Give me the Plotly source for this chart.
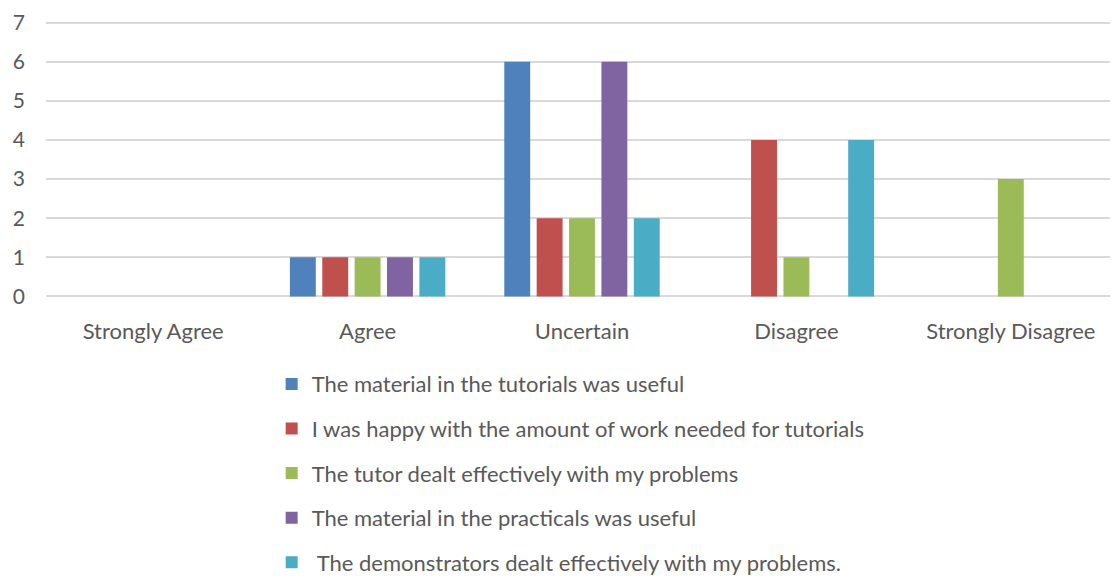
import plotly.graph_objects as go

categories = ["Strongly Agree", "Agree", "Uncertain", "Disagree", "Strongly Disagree"]

series_names = [
    "The material in the tutorials was useful",
    "I was happy with the amount of work needed for tutorials",
    "The tutor dealt effectively with my problems",
    "The material in the practicals was useful",
    " The demonstrators dealt effectively with my problems.",
]

tutorials_useful = [0, 1, 6, 0, 0]
work_amount = [0, 1, 2, 4, 0]
tutor_effective = [0, 1, 2, 1, 3]
practicals_useful = [0, 1, 6, 0, 0]
demonstrators_effective = [0, 1, 2, 4, 0]

series_values = [tutorials_useful, work_amount, tutor_effective,
                 practicals_useful, demonstrators_effective]

colors = ["#4F81BD", "#C0504D", "#9BBB59", "#8064A2", "#4BACC6"]

y_ticks = [0, 1, 2, 3, 4, 5, 6, 7]

fig = go.Figure()
for i, (name, vals) in enumerate(zip(series_names, series_values)):
    fig.add_trace(go.Bar(
        x=categories, y=vals, name=name,
        marker=dict(color=colors[i], line=dict(width=0)),
        legendgroup=str(i),
    ))

# the page body has an 8px margin, so the figure is sized/offset to fit the window
font_family = "Lato, Liberation Sans, Arial, sans-serif"
fig.update_layout(
    width=1110, height=569,
    margin=dict(l=38, r=0, t=13, b=279, autoexpand=False),
    plot_bgcolor="white", paper_bgcolor="white",
    barmode="group", bargap=0.245, bargroupgap=0.2,
    font=dict(family=font_family, size=22, color="#595959"),
    showlegend=True,
    legend=dict(
        orientation="v", x=0.2105, xanchor="left", y=-0.235, yanchor="top",
        font=dict(size=22, color="#595959"),
        tracegroupgap=13, itemwidth=30,
    ),
    yaxis=dict(range=[-0.04, 7.04], tickvals=y_ticks, showgrid=True, gridcolor="#D9D9D9",
               gridwidth=1.5, zeroline=False, showline=False, ticks="",
               ticklabelstandoff=20, tickfont=dict(size=21), automargin=False),
    xaxis=dict(showgrid=False, zeroline=False, showline=False, ticks="",
               ticklabelstandoff=18, tickfont=dict(size=22), automargin=False),
)

fig.write_html("out.html")
